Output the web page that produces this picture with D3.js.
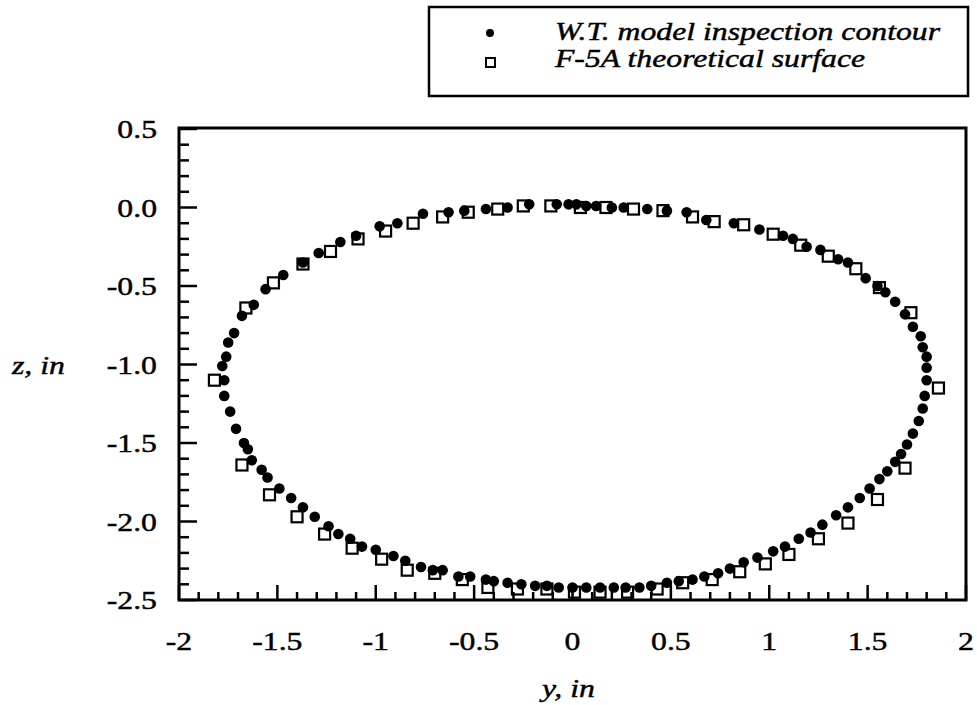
<!DOCTYPE html>
<html><head><meta charset="utf-8">
<script src="https://cdn.jsdelivr.net/npm/d3@7"></script>
<style>body{margin:0;background:#fff}svg{display:block}text{font-family:"Liberation Serif","Times New Roman",serif;fill:#000;stroke:#000;stroke-width:0.45px}</style>
</head><body><svg id="c" width="977" height="705"></svg>
<script>
// W.T. model inspection contour (circles)
const wtY = [-1.77,-1.78,-1.76,-1.75,-1.72,-1.68,-1.62,-1.56,-1.47,-1.37,-1.29,-1.18,-1.10,-0.98,-0.89,-0.76,-0.63,-0.55,-0.44,-0.33,-0.22,-0.08,-0.02,0.02,0.07,0.12,0.20,0.26,0.38,0.48,0.58,0.68,0.82,0.95,1.07,1.12,1.19,1.26,1.35,1.40,1.49,1.55,1.59,1.64,1.69,1.73,1.77,1.78,1.80,1.80,1.80,1.79,1.78,1.76,1.73,1.70,1.67,1.64,1.60,1.56,1.51,1.46,1.40,1.34,1.27,1.21,1.15,1.08,1.02,0.94,0.87,0.80,0.74,0.67,0.61,0.54,0.48,0.40,0.34,0.27,0.21,0.14,0.07,0.00,-0.07,-0.13,-0.19,-0.26,-0.33,-0.40,-0.44,-0.52,-0.58,-0.66,-0.71,-0.77,-0.85,-0.91,-1.00,-1.07,-1.13,-1.19,-1.24,-1.31,-1.37,-1.43,-1.49,-1.55,-1.58,-1.63,-1.65,-1.67,-1.71,-1.74,-1.77];
const wtZ = [-1.10,-1.01,-0.95,-0.86,-0.80,-0.69,-0.62,-0.52,-0.43,-0.35,-0.29,-0.22,-0.18,-0.12,-0.10,-0.04,-0.03,-0.02,-0.01,0.00,0.02,0.02,0.02,0.02,0.01,0.01,0.00,0.00,-0.01,-0.02,-0.03,-0.08,-0.10,-0.14,-0.18,-0.20,-0.25,-0.27,-0.33,-0.35,-0.45,-0.50,-0.54,-0.60,-0.68,-0.76,-0.82,-0.89,-0.95,-1.02,-1.10,-1.20,-1.28,-1.36,-1.44,-1.51,-1.57,-1.62,-1.68,-1.73,-1.79,-1.85,-1.91,-1.96,-2.02,-2.07,-2.11,-2.16,-2.19,-2.23,-2.26,-2.30,-2.33,-2.35,-2.37,-2.38,-2.39,-2.41,-2.42,-2.42,-2.42,-2.42,-2.42,-2.42,-2.42,-2.41,-2.41,-2.40,-2.39,-2.38,-2.37,-2.35,-2.35,-2.31,-2.31,-2.29,-2.25,-2.22,-2.18,-2.16,-2.11,-2.08,-2.03,-1.97,-1.91,-1.85,-1.79,-1.72,-1.67,-1.61,-1.54,-1.50,-1.41,-1.30,-1.20];
// F-5A theoretical surface (squares)
const f5Y = [-1.82,-1.66,-1.52,-1.37,-1.23,-1.09,-0.95,-0.81,-0.66,-0.53,-0.38,-0.25,-0.11,0.04,0.17,0.31,0.46,0.61,0.72,0.87,1.02,1.16,1.30,1.44,1.56,1.72,1.86,1.69,1.55,1.40,1.25,1.10,0.98,0.85,0.71,0.56,0.43,0.28,0.14,0.01,-0.13,-0.28,-0.43,-0.56,-0.70,-0.84,-0.97,-1.12,-1.26,-1.40,-1.54,-1.68];
const f5Z = [-1.10,-0.64,-0.48,-0.36,-0.28,-0.20,-0.15,-0.10,-0.06,-0.03,-0.01,0.01,0.01,0.00,0.00,-0.01,-0.02,-0.06,-0.09,-0.11,-0.17,-0.24,-0.31,-0.39,-0.51,-0.67,-1.15,-1.66,-1.86,-2.01,-2.11,-2.21,-2.27,-2.32,-2.37,-2.39,-2.43,-2.45,-2.45,-2.45,-2.43,-2.43,-2.42,-2.37,-2.33,-2.31,-2.24,-2.17,-2.08,-1.97,-1.83,-1.64];
const xTicks = [-2,-1.5,-1,-0.5,0,0.5,1,1.5,2];
const xTickLabels = ["-2","-1.5","-1","-0.5","0","0.5","1","1.5","2"];
const yTicks = [0.5,0,-0.5,-1,-1.5,-2,-2.5];
const yTickLabels = ["0.5","0.0","-0.5","-1.0","-1.5","-2.0","-2.5"];
const legendLabels = ["W.T. model inspection contour","F-5A theoretical surface"];
const xTitle = "y, in", yTitle = "z, in";

const svg = d3.select("#c");
const L=179, R=966, T=128, B=600;
const x = d3.scaleLinear().domain([-2,2]).range([L,R]);
const y = d3.scaleLinear().domain([-2.5,0.5]).range([B,129]);
const SX = 1.22;
function stext(g, px, py, str, anchor, italic, size){
  return g.append("text").attr("transform",`translate(${px},${py}) scale(${SX},1)`)
    .attr("text-anchor",anchor).style("font-size",(size||26)+"px")
    .style("font-style",italic?"italic":"normal").text(str);
}

// squares (under circles)
const s=11;
svg.append("g").selectAll("rect").data(f5Y.map((v,i)=>[v,f5Z[i]])).join("rect")
  .attr("x",d=>x(d[0])-s/2).attr("y",d=>y(d[1])-s/2).attr("width",s).attr("height",s)
  .attr("fill","#fff").attr("stroke","#000").attr("stroke-width",2.2);
svg.append("g").selectAll("circle").data(wtY.map((v,i)=>[v,wtZ[i]])).join("circle")
  .attr("cx",d=>x(d[0])).attr("cy",d=>y(d[1])).attr("r",5.3).attr("fill","#000");

// frame
svg.append("rect").attr("x",L).attr("y",T).attr("width",R-L).attr("height",B-T)
  .attr("fill","none").attr("stroke","#000").attr("stroke-width",3);

// ticks
const xMinor = d3.range(-20,21).map(i=>i/10);
svg.append("g").selectAll("line").data(xMinor).join("line")
  .attr("x1",d=>x(d)).attr("x2",d=>x(d)).attr("y1",B)
  .attr("y2",d=>B-(Math.abs(d*2-Math.round(d*2))<1e-6?15:8))
  .attr("stroke","#000").attr("stroke-width",2.5);
const yMinor = d3.range(-25,6).map(i=>i/10);
svg.append("g").selectAll("line").data(yMinor).join("line")
  .attr("y1",d=>y(d)).attr("y2",d=>y(d)).attr("x1",L)
  .attr("x2",d=>L+(Math.abs(d*2-Math.round(d*2))<1e-6?18:10))
  .attr("stroke","#000").attr("stroke-width",2.5);

// tick labels
const gl = svg.append("g");
xTicks.forEach((t,i)=>stext(gl, x(t), 650, xTickLabels[i], "middle"));
yTicks.forEach((t,i)=>stext(gl, 157, y(t)+9, yTickLabels[i], "end"));

// titles
stext(gl, 12, y(-1)+9, yTitle, "start", true);
stext(gl, 542, 697, xTitle, "start", true);

// legend
svg.append("rect").attr("x",429).attr("y",7).attr("width",539).attr("height",89)
  .attr("fill","none").attr("stroke","#000").attr("stroke-width",2.5);
svg.append("circle").attr("cx",490).attr("cy",33).attr("r",4).attr("fill","#000");
svg.append("rect").attr("x",486).attr("y",58).attr("width",9).attr("height",9)
  .attr("fill","#fff").attr("stroke","#000").attr("stroke-width",2);
stext(gl, 555, 40, legendLabels[0], "start", true, 26);
stext(gl, 555, 67, legendLabels[1], "start", true, 26);
</script></body></html>
